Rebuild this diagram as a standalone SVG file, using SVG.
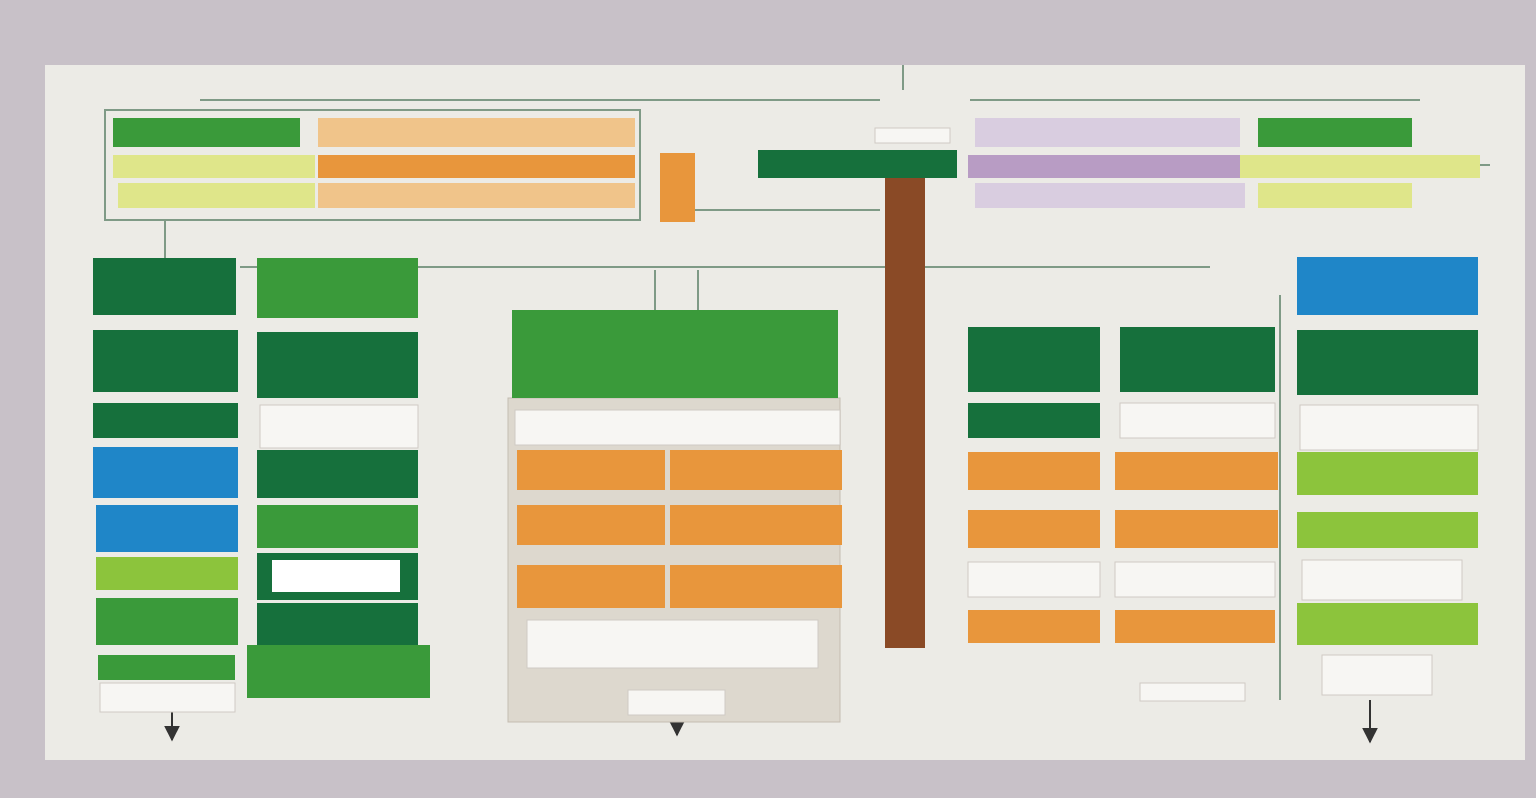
<svg xmlns="http://www.w3.org/2000/svg" width="1536" height="798" viewBox="0 0 1536 798">
<style>
.dg{fill:#16703c}.g{fill:#3a9a3a}.lg{fill:#8cc43c}.bl{fill:#1f86c8}.w{fill:#f7f6f3;stroke:#cfcac4}.o{fill:#e8963c}.lo{fill:#f0c48a}.pu{fill:#b89cc4}.lv{fill:#d9cde0}.y{fill:#dfe68a}
.ln{stroke:#7f9a86;stroke-width:2;fill:none}
</style>
<defs><marker id="a" viewBox="0 0 10 10" refX="9" refY="5" markerWidth="8" markerHeight="8" orient="auto"><path d="M0,0L10,5L0,10z" fill="#333"/></marker></defs>
<rect width="1536" height="798" fill="#c8c1c8"/>
<rect x="45" y="65" width="1480" height="695" fill="#ecebe6"/>
<g id="connectors">
<rect x="105" y="110" width="535" height="110" class="ln"/>
<path class="ln" d="M200 100H880M970 100H1420M240 267H1210M165 220V258M695 210H880M1280 295V700M655 270V310M698 270V310M903 65V90M1490 165H1470"/>
<path d="M172 712V740" stroke="#333" stroke-width="2" marker-end="url(#a)"/>
<path d="M677 715V735" stroke="#333" stroke-width="2" marker-end="url(#a)"/>
<path d="M1370 700V742" stroke="#333" stroke-width="2" marker-end="url(#a)"/>
</g>
<g id="top-left">
<rect class="g" x="113" y="118" width="187" height="29"/><rect class="lo" x="318" y="118" width="317" height="29"/>
<rect class="y" x="113" y="155" width="202" height="23"/><rect class="o" x="318" y="155" width="317" height="23"/>
<rect class="y" x="118" y="183" width="197" height="25"/><rect class="lo" x="318" y="183" width="317" height="25"/>
<rect class="o" x="660" y="153" width="35" height="69"/>
</g>
<g id="top-center"><rect class="w" x="875" y="128" width="75" height="15"/><rect class="dg" x="758" y="150" width="199" height="28"/>
<rect x="885" y="178" width="40" height="470" fill="#8a4a26"/></g>
<g id="top-right">
<rect class="lv" x="975" y="118" width="265" height="29"/><rect class="g" x="1258" y="118" width="154" height="29"/>
<rect class="pu" x="968" y="155" width="272" height="23"/><rect class="y" x="1240" y="155" width="240" height="23"/>
<rect class="lv" x="975" y="183" width="270" height="25"/><rect class="y" x="1258" y="183" width="154" height="25"/>
</g>
<g id="col1">
<rect class="dg" x="93" y="258" width="143" height="57"/><rect class="dg" x="93" y="330" width="145" height="62"/>
<rect class="dg" x="93" y="403" width="145" height="35"/><rect class="bl" x="93" y="447" width="145" height="51"/>
<rect class="bl" x="96" y="505" width="142" height="47"/><rect class="lg" x="96" y="557" width="142" height="33"/>
<rect class="g" x="96" y="598" width="142" height="47"/><rect class="g" x="98" y="655" width="137" height="25"/>
<rect class="w" x="100" y="683" width="135" height="29"/>
</g>
<g id="col2">
<rect class="g" x="257" y="258" width="161" height="60"/><rect class="dg" x="257" y="332" width="161" height="66"/>
<rect class="w" x="260" y="405" width="158" height="43"/><rect class="dg" x="257" y="450" width="161" height="48"/>
<rect class="g" x="257" y="505" width="161" height="43"/><rect class="dg" x="257" y="553" width="161" height="47"/>
<rect fill="#fff" x="272" y="560" width="128" height="32"/><rect class="dg" x="257" y="603" width="161" height="42"/>
<rect class="g" x="247" y="645" width="183" height="53"/>
</g>
<g id="center">
<rect x="508" y="398" width="332" height="324" fill="#ddd8ce" stroke="#c4bdb1"/>
<rect class="g" x="512" y="310" width="326" height="88"/>
<rect class="w" x="515" y="410" width="325" height="35"/>
<rect class="o" x="517" y="450" width="148" height="40"/><rect class="o" x="670" y="450" width="172" height="40"/>
<rect class="o" x="517" y="505" width="148" height="40"/><rect class="o" x="670" y="505" width="172" height="40"/>
<rect class="o" x="517" y="565" width="148" height="43"/><rect class="o" x="670" y="565" width="172" height="43"/>
<rect class="w" x="527" y="620" width="291" height="48"/><rect class="w" x="628" y="690" width="97" height="25"/>
</g>
<g id="right-center">
<rect class="dg" x="968" y="327" width="132" height="65"/><rect class="dg" x="1120" y="327" width="155" height="65"/>
<rect class="dg" x="968" y="403" width="132" height="35"/><rect class="w" x="1120" y="403" width="155" height="35"/>
<rect class="o" x="968" y="452" width="132" height="38"/><rect class="o" x="1115" y="452" width="163" height="38"/>
<rect class="o" x="968" y="510" width="132" height="38"/><rect class="o" x="1115" y="510" width="163" height="38"/>
<rect class="w" x="968" y="562" width="132" height="35"/><rect class="w" x="1115" y="562" width="160" height="35"/>
<rect class="o" x="968" y="610" width="132" height="33"/><rect class="o" x="1115" y="610" width="160" height="33"/>
<rect class="w" x="1140" y="683" width="105" height="18"/>
</g>
<g id="col-right">
<rect class="bl" x="1297" y="257" width="181" height="58"/><rect class="dg" x="1297" y="330" width="181" height="65"/>
<rect class="w" x="1300" y="405" width="178" height="45"/><rect class="lg" x="1297" y="452" width="181" height="43"/>
<rect class="lg" x="1297" y="512" width="181" height="36"/><rect class="w" x="1302" y="560" width="160" height="40"/>
<rect class="lg" x="1297" y="603" width="181" height="42"/><rect class="w" x="1322" y="655" width="110" height="40"/>
</g>
</svg>
